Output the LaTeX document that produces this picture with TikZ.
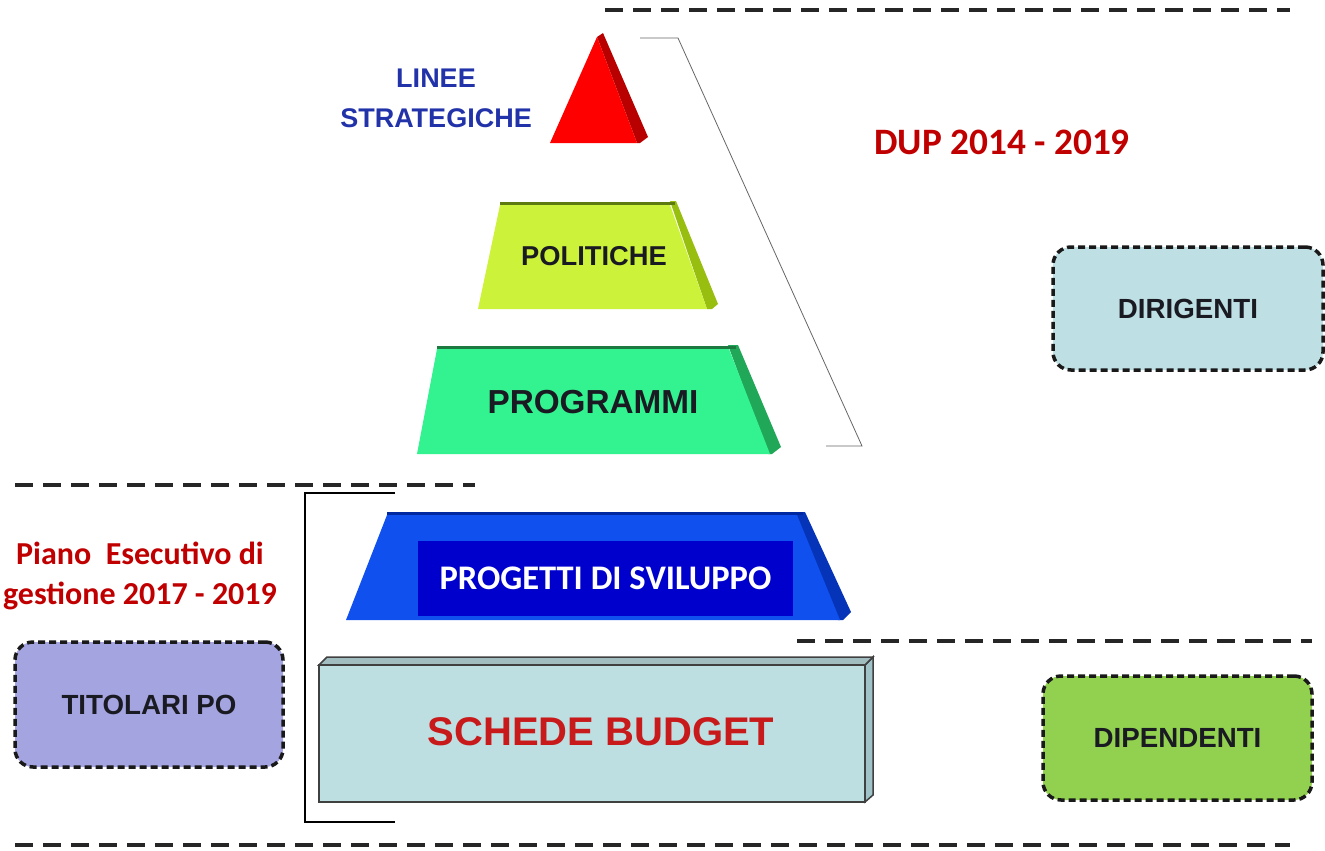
\documentclass[tikz,border=0pt]{standalone}
\usepackage{fontspec}
\setmainfont{Liberation Sans}
\newfontfamily\calfont{Carlito}
\definecolor{redT}{HTML}{FF0000}
\definecolor{redS}{HTML}{B80000}
\definecolor{polF}{HTML}{CCF23A}
\definecolor{polS}{HTML}{98BE10}
\definecolor{polR}{HTML}{5C7A10}
\definecolor{proF}{HTML}{33F290}
\definecolor{proS}{HTML}{20A858}
\definecolor{proR}{HTML}{1C7A40}
\definecolor{bluF}{HTML}{1050EE}
\definecolor{bluS}{HTML}{0634B8}
\definecolor{bluR}{HTML}{0028A0}
\definecolor{bluIn}{HTML}{0000CC}
\definecolor{budF}{HTML}{BEDFE2}
\definecolor{budS}{HTML}{9FC3C8}
\definecolor{budTxt}{HTML}{C81A1A}
\definecolor{titF}{HTML}{A4A4E0}
\definecolor{dirF}{HTML}{BEDFE3}
\definecolor{dipF}{HTML}{92D050}
\definecolor{darkred}{HTML}{C00000}
\definecolor{lineeblue}{HTML}{2233AA}
\definecolor{txtdark}{HTML}{1A1A22}
\tikzset{
  pageline/.style={line width=4pt, dash pattern=on 18pt off 10pt, draw=black!85},
  rolebox/.style={draw=black!90, line width=3.5pt, dash pattern=on 7pt off 4pt, rounded corners=18pt, inner sep=0pt, font=\bfseries\fontsize{27.7}{30}\selectfont, text=txtdark},
  lbl/.style={font=\bfseries\fontsize{27}{30}\selectfont, inner sep=0pt},
  callbl/.style={font=\calfont\bfseries\fontsize{33}{40}\selectfont, inner sep=0pt, text=darkred, align=center}
}
\begin{document}
\begin{tikzpicture}[x=1pt,y=-1pt]
\useasboundingbox (0,0) rectangle (1325,851);
% page dashed lines
\coordinate (t1) at (605,10); \coordinate (t2) at (1290,10);
\coordinate (m1) at (15,485); \coordinate (m2) at (475,485);
\coordinate (r1) at (797,641); \coordinate (r2) at (1312,641);
\coordinate (b1) at (15,845); \coordinate (b2) at (1290,845);
\draw[pageline] (t1) -- (t2);
\draw[pageline] (m1) -- (m2);
\draw[pageline] (r1) -- (r2);
\draw[pageline] (b1) -- (b2);
% red triangle
\fill[redS] (597,37) -- (603,33) -- (648,137) -- (640,143) -- (637,143) -- cycle;
\fill[redT] (597,37) -- (550,143) -- (637,143) -- cycle;
% POLITICHE
\fill[polS] (670,201) -- (676,201) -- (718,304) -- (712,309) -- (707,309) -- cycle;
\fill[polF] (500,205) -- (670,205) -- (707,309) -- (478,309) -- cycle;
\draw[polR, line width=3pt] (500,203) -- (675,203);
% PROGRAMMI
\fill[proS] (728,345) -- (738,345) -- (781,447) -- (772,454) -- (768,454) -- cycle;
\fill[proF] (437,349) -- (729,349) -- (770,454) -- (417,454) -- cycle;
\draw[proR, line width=3pt] (437,347) -- (736,347);
% right bracket
\draw[black!60, line width=0.8pt] (640,38) -- (678,38) -- (862,446) -- (826,446);
% PROGETTI
\fill[bluS] (795,512) -- (805,512) -- (851,612) -- (843,620) -- (838,620) -- cycle;
\fill[bluF] (387,515) -- (797,515) -- (840,620) -- (346,620) -- cycle;
\draw[bluR, line width=3pt] (387,513) -- (803,513);
\node[fill=bluIn, minimum width=375pt, minimum height=75pt, inner sep=0pt,
      font=\calfont\bfseries\fontsize{34.5}{38}\selectfont, text=white] (prog) at (605.5,578.5) {PROGETTI DI SVILUPPO};
% left bracket
\draw[black, line width=2pt] (395,493) -- (305,493) -- (305,822) -- (395,822);
% SCHEDE BUDGET box
\fill[budS, draw=black!75, line width=1.5pt] (865,665) -- (873,657) -- (873,795) -- (865,802) -- cycle;
\fill[budF!85!black, draw=black!75, line width=1.5pt] (319,665) -- (327,657) -- (873,657) -- (865,665) -- cycle;
\node[draw=black!75, line width=2pt, fill=budF, minimum width=546pt, minimum height=137pt, inner sep=0pt] (bud) at (592,733.5) {};
\node[font=\bfseries\fontsize{40}{44}\selectfont, text=budTxt, inner sep=0pt] (budtxt) at (601,732) {SCHEDE BUDGET};
% pyramid labels
\node[lbl, text=lineeblue, align=center, font=\bfseries\fontsize{27}{40}\selectfont] (linee) at (436,98) {LINEE\\STRATEGICHE};
\node[lbl, text=txtdark, font=\bfseries\fontsize{27.3}{30}\selectfont] (pol) at (594,256) {POLITICHE};
\node[lbl, text=txtdark, font=\bfseries\fontsize{33.3}{36}\selectfont] (pro) at (593,402) {PROGRAMMI};
% titles
\node[callbl, font=\calfont\bfseries\fontsize{37.3}{40}\selectfont] (dup) at (1002,142) {DUP 2014 - 2019};
\node[callbl, font=\calfont\bfseries\fontsize{32}{40}\selectfont] (peg) at (140,576) {Piano~~Esecutivo di\\gestione 2017 - 2019};
% role boxes
\node[rolebox, fill=titF, minimum width=268pt, minimum height=125pt] (tit) at (149,704.5) {TITOLARI PO};
\node[rolebox, fill=dirF, minimum width=270pt, minimum height=123pt] (dir) at (1188,308.5) {DIRIGENTI};
\node[rolebox, fill=dipF, minimum width=269pt, minimum height=124pt] (dip) at (1177.5,738) {DIPENDENTI};
\end{tikzpicture}
\end{document}
